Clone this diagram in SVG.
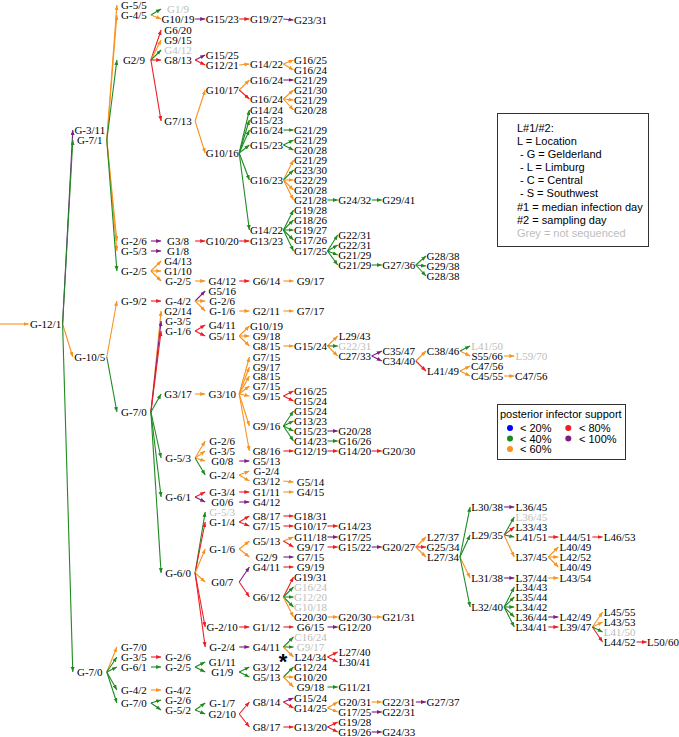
<svg xmlns="http://www.w3.org/2000/svg" width="679" height="737" viewBox="0 0 679 737">
<defs>
<marker id="mo" markerWidth="6" markerHeight="5" refX="5" refY="2" orient="auto" markerUnits="userSpaceOnUse"><path d="M0,0 L5,2 L0,4 Z" fill="#f7931e"/></marker>
<marker id="mg" markerWidth="6" markerHeight="5" refX="5" refY="2" orient="auto" markerUnits="userSpaceOnUse"><path d="M0,0 L5,2 L0,4 Z" fill="#1f8a22"/></marker>
<marker id="mr" markerWidth="6" markerHeight="5" refX="5" refY="2" orient="auto" markerUnits="userSpaceOnUse"><path d="M0,0 L5,2 L0,4 Z" fill="#ee1c25"/></marker>
<marker id="mp" markerWidth="6" markerHeight="5" refX="5" refY="2" orient="auto" markerUnits="userSpaceOnUse"><path d="M0,0 L5,2 L0,4 Z" fill="#7e1e82"/></marker>
</defs>
<style>
#edges path{fill:none;stroke-width:1.1}
.o{stroke:#f7931e;marker-end:url(#mo)}
.g{stroke:#1f8a22;marker-end:url(#mg)}
.r{stroke:#ee1c25;marker-end:url(#mr)}
.p{stroke:#7e1e82;marker-end:url(#mp)}
text{font-family:"Liberation Serif","Times New Roman",serif;font-size:11px;text-anchor:middle;fill:#000}
text.gy{fill:#bdbdbd}
.lg text{font-family:"Liberation Sans",Arial,sans-serif;font-size:11px;text-anchor:start}
.box{fill:#fff;stroke:#333;stroke-width:1}
</style>
<rect width="679" height="737" fill="#fff"/>
<g id="edges">
<path class="o" d="M0 324L28.6 324"/>
<path class="p" d="M62.6 324L72.8 130"/>
<path class="g" d="M62.6 324L72.8 140"/>
<path class="o" d="M62.6 324L72.8 357"/>
<path class="g" d="M62.6 324L72.8 672"/>
<path class="o" d="M106.8 140L116.9 5"/>
<path class="o" d="M106.8 140L116.9 15"/>
<path class="g" d="M106.8 140L116.9 60"/>
<path class="o" d="M106.8 140L116.9 241"/>
<path class="o" d="M106.8 140L116.9 251"/>
<path class="g" d="M106.8 140L116.9 271"/>
<path class="o" d="M106.8 357L116.9 301"/>
<path class="g" d="M106.8 357L116.9 412"/>
<path class="o" d="M106.8 672L116.9 647"/>
<path class="g" d="M106.8 672L116.9 657"/>
<path class="g" d="M106.8 672L116.9 667"/>
<path class="g" d="M106.8 672L116.9 690"/>
<path class="g" d="M106.8 672L116.9 703"/>
<path class="g" d="M150.9 15L161.1 9"/>
<path class="o" d="M150.9 15L161.1 19"/>
<path class="r" d="M150.9 60L161.1 30"/>
<path class="o" d="M150.9 60L161.1 40"/>
<path class="g" d="M150.9 60L161.1 50"/>
<path class="r" d="M150.9 60L161.1 60"/>
<path class="r" d="M150.9 60L161.1 121"/>
<path class="p" d="M150.9 241L161.1 241"/>
<path class="p" d="M150.9 251L161.1 251"/>
<path class="o" d="M150.9 271L161.1 261"/>
<path class="o" d="M150.9 271L161.1 271"/>
<path class="o" d="M150.9 271L161.1 281"/>
<path class="r" d="M150.9 301L161.1 301"/>
<path class="o" d="M150.9 412L161.1 311"/>
<path class="p" d="M150.9 412L161.1 321"/>
<path class="r" d="M150.9 412L161.1 331"/>
<path class="g" d="M150.9 412L161.1 394"/>
<path class="g" d="M150.9 412L161.1 458"/>
<path class="g" d="M150.9 412L161.1 497"/>
<path class="g" d="M150.9 412L161.1 573"/>
<path class="r" d="M150.9 657L161.1 657"/>
<path class="g" d="M150.9 667L161.1 667"/>
<path class="o" d="M150.9 690L161.1 690"/>
<path class="g" d="M150.9 703L161.1 700"/>
<path class="g" d="M150.9 703L161.1 710"/>
<path class="p" d="M195.1 19L205.2 19"/>
<path class="p" d="M195.1 60L205.2 55"/>
<path class="r" d="M195.1 60L205.2 65"/>
<path class="o" d="M195.1 121L205.2 90"/>
<path class="o" d="M195.1 121L205.2 153"/>
<path class="r" d="M195.1 241L205.2 241"/>
<path class="o" d="M195.1 281L205.2 281"/>
<path class="p" d="M195.1 301L205.2 291"/>
<path class="o" d="M195.1 301L205.2 301"/>
<path class="o" d="M195.1 301L205.2 311"/>
<path class="r" d="M195.1 331L205.2 325"/>
<path class="r" d="M195.1 331L205.2 336"/>
<path class="o" d="M195.1 394L205.2 394"/>
<path class="o" d="M195.1 458L205.2 441"/>
<path class="o" d="M195.1 458L205.2 451"/>
<path class="o" d="M195.1 458L205.2 461"/>
<path class="g" d="M195.1 458L205.2 475"/>
<path class="r" d="M195.1 497L205.2 492"/>
<path class="p" d="M195.1 497L205.2 502"/>
<path class="g" d="M195.1 573L205.2 512"/>
<path class="r" d="M195.1 573L205.2 522"/>
<path class="o" d="M195.1 573L205.2 549"/>
<path class="o" d="M195.1 573L205.2 582"/>
<path class="r" d="M195.1 573L205.2 627"/>
<path class="r" d="M195.1 573L205.2 647"/>
<path class="g" d="M195.1 667L205.2 662"/>
<path class="g" d="M195.1 667L205.2 672"/>
<path class="g" d="M195.1 710L205.2 703"/>
<path class="g" d="M195.1 710L205.2 714"/>
<path class="r" d="M239.2 19L249.4 19"/>
<path class="o" d="M239.2 65L249.4 64"/>
<path class="o" d="M239.2 90L249.4 80"/>
<path class="r" d="M239.2 90L249.4 99"/>
<path class="g" d="M239.2 153L249.4 110"/>
<path class="g" d="M239.2 153L249.4 120"/>
<path class="g" d="M239.2 153L249.4 130"/>
<path class="g" d="M239.2 153L249.4 145"/>
<path class="g" d="M239.2 153L249.4 180"/>
<path class="g" d="M239.2 153L249.4 230"/>
<path class="r" d="M239.2 241L249.4 241"/>
<path class="r" d="M239.2 281L249.4 281"/>
<path class="o" d="M239.2 311L249.4 311"/>
<path class="o" d="M239.2 336L249.4 326"/>
<path class="o" d="M239.2 336L249.4 336"/>
<path class="o" d="M239.2 336L249.4 346"/>
<path class="o" d="M239.2 394L249.4 357"/>
<path class="o" d="M239.2 394L249.4 367"/>
<path class="o" d="M239.2 394L249.4 376"/>
<path class="o" d="M239.2 394L249.4 386"/>
<path class="o" d="M239.2 394L249.4 396"/>
<path class="o" d="M239.2 394L249.4 426"/>
<path class="o" d="M239.2 394L249.4 451"/>
<path class="p" d="M239.2 461L249.4 461"/>
<path class="o" d="M239.2 475L249.4 471"/>
<path class="o" d="M239.2 475L249.4 481"/>
<path class="r" d="M239.2 492L249.4 492"/>
<path class="p" d="M239.2 502L249.4 502"/>
<path class="r" d="M239.2 522L249.4 516"/>
<path class="r" d="M239.2 522L249.4 526"/>
<path class="o" d="M239.2 549L249.4 541"/>
<path class="o" d="M239.2 549L249.4 557"/>
<path class="p" d="M239.2 582L249.4 567"/>
<path class="r" d="M239.2 582L249.4 597"/>
<path class="r" d="M239.2 627L249.4 627"/>
<path class="p" d="M239.2 647L249.4 647"/>
<path class="g" d="M239.2 672L249.4 667"/>
<path class="g" d="M239.2 672L249.4 677"/>
<path class="r" d="M239.2 714L249.4 702"/>
<path class="r" d="M239.2 714L249.4 727"/>
<path class="p" d="M283.4 19L293.5 20"/>
<path class="o" d="M283.4 64L293.5 60"/>
<path class="o" d="M283.4 64L293.5 70"/>
<path class="p" d="M283.4 80L293.5 80"/>
<path class="o" d="M283.4 99L293.5 90"/>
<path class="o" d="M283.4 99L293.5 100"/>
<path class="o" d="M283.4 99L293.5 110"/>
<path class="g" d="M283.4 130L293.5 130"/>
<path class="g" d="M283.4 145L293.5 140"/>
<path class="g" d="M283.4 145L293.5 150"/>
<path class="o" d="M283.4 180L293.5 160"/>
<path class="g" d="M283.4 180L293.5 170"/>
<path class="o" d="M283.4 180L293.5 180"/>
<path class="o" d="M283.4 180L293.5 190"/>
<path class="o" d="M283.4 180L293.5 200"/>
<path class="g" d="M283.4 230L293.5 210"/>
<path class="g" d="M283.4 230L293.5 220"/>
<path class="g" d="M283.4 230L293.5 230"/>
<path class="g" d="M283.4 230L293.5 240"/>
<path class="g" d="M283.4 230L293.5 251"/>
<path class="o" d="M283.4 281L293.5 281"/>
<path class="o" d="M283.4 311L293.5 311"/>
<path class="o" d="M283.4 346L293.5 346"/>
<path class="r" d="M283.4 396L293.5 391"/>
<path class="r" d="M283.4 396L293.5 401"/>
<path class="g" d="M283.4 426L293.5 411"/>
<path class="g" d="M283.4 426L293.5 421"/>
<path class="g" d="M283.4 426L293.5 431"/>
<path class="g" d="M283.4 426L293.5 441"/>
<path class="r" d="M283.4 451L293.5 451"/>
<path class="o" d="M283.4 481L293.5 482"/>
<path class="o" d="M283.4 492L293.5 492"/>
<path class="r" d="M283.4 516L293.5 516"/>
<path class="r" d="M283.4 526L293.5 526"/>
<path class="o" d="M283.4 541L293.5 537"/>
<path class="r" d="M283.4 541L293.5 547"/>
<path class="p" d="M283.4 557L293.5 557"/>
<path class="r" d="M283.4 567L293.5 567"/>
<path class="r" d="M283.4 597L293.5 577"/>
<path class="g" d="M283.4 597L293.5 587"/>
<path class="g" d="M283.4 597L293.5 597"/>
<path class="g" d="M283.4 597L293.5 607"/>
<path class="o" d="M283.4 597L293.5 617"/>
<path class="r" d="M283.4 627L293.5 627"/>
<path class="g" d="M283.4 647L293.5 637"/>
<path class="g" d="M283.4 647L293.5 647"/>
<path class="o" d="M283.4 647L293.5 657"/>
<path class="g" d="M283.4 677L293.5 667"/>
<path class="o" d="M283.4 677L293.5 677"/>
<path class="o" d="M283.4 677L293.5 687"/>
<path class="p" d="M283.4 702L293.5 698"/>
<path class="r" d="M283.4 702L293.5 708"/>
<path class="r" d="M283.4 727L293.5 727"/>
<path class="g" d="M327.5 200L337.7 200"/>
<path class="g" d="M327.5 251L337.7 235"/>
<path class="g" d="M327.5 251L337.7 245"/>
<path class="g" d="M327.5 251L337.7 255"/>
<path class="g" d="M327.5 251L337.7 265"/>
<path class="o" d="M327.5 346L337.7 336"/>
<path class="g" d="M327.5 346L337.7 346"/>
<path class="o" d="M327.5 346L337.7 356"/>
<path class="p" d="M327.5 431L337.7 431"/>
<path class="g" d="M327.5 441L337.7 441"/>
<path class="r" d="M327.5 451L337.7 451"/>
<path class="r" d="M327.5 526L337.7 526"/>
<path class="p" d="M327.5 537L337.7 537"/>
<path class="r" d="M327.5 547L337.7 547"/>
<path class="o" d="M327.5 617L337.7 617"/>
<path class="p" d="M327.5 627L337.7 627"/>
<path class="r" d="M327.5 657L337.7 652"/>
<path class="r" d="M327.5 657L337.7 662"/>
<path class="g" d="M327.5 687L337.7 687"/>
<path class="o" d="M327.5 708L337.7 702"/>
<path class="o" d="M327.5 708L337.7 712"/>
<path class="r" d="M327.5 727L337.7 722"/>
<path class="r" d="M327.5 727L337.7 732"/>
<path class="g" d="M371.7 200L381.8 200"/>
<path class="g" d="M371.7 265L381.8 265"/>
<path class="p" d="M371.7 356L381.8 351"/>
<path class="p" d="M371.7 356L381.8 361"/>
<path class="r" d="M371.7 451L381.8 451"/>
<path class="p" d="M371.7 547L381.8 547"/>
<path class="o" d="M371.7 617L381.8 617"/>
<path class="o" d="M371.7 702L381.8 702"/>
<path class="p" d="M371.7 712L381.8 712"/>
<path class="p" d="M371.7 732L381.8 732"/>
<path class="g" d="M415.8 265L426 256"/>
<path class="g" d="M415.8 265L426 266"/>
<path class="g" d="M415.8 265L426 276"/>
<path class="o" d="M415.8 361L426 351"/>
<path class="r" d="M415.8 361L426 371"/>
<path class="o" d="M415.8 547L426 537"/>
<path class="r" d="M415.8 547L426 547"/>
<path class="o" d="M415.8 547L426 557"/>
<path class="p" d="M415.8 702L426 702"/>
<path class="g" d="M460 351L470.1 346"/>
<path class="o" d="M460 351L470.1 356"/>
<path class="o" d="M460 371L470.1 366"/>
<path class="o" d="M460 371L470.1 376"/>
<path class="g" d="M460 557L470.1 507"/>
<path class="g" d="M460 557L470.1 535"/>
<path class="o" d="M460 557L470.1 578"/>
<path class="g" d="M460 557L470.1 607"/>
<path class="o" d="M504.1 356L514.3 356"/>
<path class="o" d="M504.1 376L514.3 376"/>
<path class="p" d="M504.1 507L514.3 507"/>
<path class="g" d="M504.1 535L514.3 517"/>
<path class="r" d="M504.1 535L514.3 527"/>
<path class="g" d="M504.1 535L514.3 537"/>
<path class="o" d="M504.1 535L514.3 557"/>
<path class="p" d="M504.1 578L514.3 578"/>
<path class="g" d="M504.1 607L514.3 587"/>
<path class="g" d="M504.1 607L514.3 597"/>
<path class="g" d="M504.1 607L514.3 607"/>
<path class="g" d="M504.1 607L514.3 617"/>
<path class="g" d="M504.1 607L514.3 627"/>
<path class="r" d="M548.3 537L558.4 537"/>
<path class="o" d="M548.3 557L558.4 547"/>
<path class="o" d="M548.3 557L558.4 557"/>
<path class="o" d="M548.3 557L558.4 567"/>
<path class="o" d="M548.3 578L558.4 578"/>
<path class="p" d="M548.3 617L558.4 617"/>
<path class="r" d="M548.3 627L558.4 627"/>
<path class="r" d="M592.4 537L602.6 537"/>
<path class="o" d="M592.4 627L602.6 612"/>
<path class="o" d="M592.4 627L602.6 622"/>
<path class="g" d="M592.4 627L602.6 632"/>
<path class="r" d="M592.4 627L602.6 642"/>
<path class="r" d="M636.6 642L646.7 642"/>
</g>
<g id="n0"><text x="45.6" y="328">G-12/1</text></g>
<g id="a1"><text x="89.8" y="134">G-3/11</text></g>
<g id="a2"><text x="89.8" y="144">G-7/1</text></g>
<g id="a3"><text x="89.8" y="361">G-10/5</text></g>
<g id="a4"><text x="89.8" y="676">G-7/0</text></g>
<g id="b1"><text x="133.9" y="9">G-5/5</text></g>
<g id="b2"><text x="133.9" y="19">G-4/5</text></g>
<g id="b3"><text x="133.9" y="64">G2/9</text></g>
<g id="b4"><text x="133.9" y="245">G-2/6</text></g>
<g id="b5"><text x="133.9" y="255">G-5/3</text></g>
<g id="b6"><text x="133.9" y="275">G-2/5</text></g>
<g id="b7"><text x="133.9" y="305">G-9/2</text></g>
<g id="b8"><text x="133.9" y="416">G-7/0</text></g>
<g id="b9"><text x="133.9" y="651">G-7/0</text></g>
<g id="b10"><text x="133.9" y="661">G-3/5</text></g>
<g id="b11"><text x="133.9" y="671">G-6/1</text></g>
<g id="b12"><text x="133.9" y="694">G-4/2</text></g>
<g id="b13"><text x="133.9" y="707">G-7/0</text></g>
<g id="c1"><text class="gy" x="178.1" y="13">G1/9</text></g>
<g id="c2"><text x="178.1" y="23">G10/19</text></g>
<g id="c3"><text x="178.1" y="34">G6/20</text></g>
<g id="c4"><text x="178.1" y="44">G9/15</text></g>
<g id="c5"><text class="gy" x="178.1" y="54">G4/12</text></g>
<g id="c6"><text x="178.1" y="64">G8/13</text></g>
<g id="c7"><text x="178.1" y="125">G7/13</text></g>
<g id="c8"><text x="178.1" y="245">G3/8</text></g>
<g id="c9"><text x="178.1" y="255">G1/8</text></g>
<g id="c10"><text x="178.1" y="265">G4/13</text></g>
<g id="c11"><text x="178.1" y="275">G1/10</text></g>
<g id="c12"><text x="178.1" y="285">G-2/5</text></g>
<g id="c13"><text x="178.1" y="305">G-4/2</text></g>
<g id="c14"><text x="178.1" y="315">G2/14</text></g>
<g id="c15"><text x="178.1" y="325">G-3/5</text></g>
<g id="c16"><text x="178.1" y="335">G-1/6</text></g>
<g id="c17"><text x="178.1" y="398">G3/17</text></g>
<g id="c18"><text x="178.1" y="462">G-5/3</text></g>
<g id="c19"><text x="178.1" y="501">G-6/1</text></g>
<g id="c20"><text x="178.1" y="577">G-6/0</text></g>
<g id="c21"><text x="178.1" y="661">G-2/6</text></g>
<g id="c22"><text x="178.1" y="671">G-2/5</text></g>
<g id="c23"><text x="178.1" y="694">G-4/2</text></g>
<g id="c24"><text x="178.1" y="704">G-2/6</text></g>
<g id="c25"><text x="178.1" y="714">G-5/2</text></g>
<g id="d1"><text x="222.2" y="23">G15/23</text></g>
<g id="d2"><text x="222.2" y="59">G15/25</text></g>
<g id="d3"><text x="222.2" y="69">G12/21</text></g>
<g id="d4"><text x="222.2" y="94">G10/17</text></g>
<g id="d5"><text x="222.2" y="157">G10/16</text></g>
<g id="d6"><text x="222.2" y="245">G10/20</text></g>
<g id="d7"><text x="222.2" y="285">G4/12</text></g>
<g id="d8"><text x="222.2" y="295">G5/16</text></g>
<g id="d9"><text x="222.2" y="305">G-2/6</text></g>
<g id="d10"><text x="222.2" y="315">G-1/6</text></g>
<g id="d11"><text x="222.2" y="329">G4/11</text></g>
<g id="d12"><text x="222.2" y="340">G5/11</text></g>
<g id="d13"><text x="222.2" y="398">G3/10</text></g>
<g id="d14"><text x="222.2" y="445">G-2/6</text></g>
<g id="d15"><text x="222.2" y="455">G-3/5</text></g>
<g id="d16"><text x="222.2" y="465">G0/8</text></g>
<g id="d17"><text x="222.2" y="479">G-2/4</text></g>
<g id="d18"><text x="222.2" y="496">G-3/4</text></g>
<g id="d19"><text x="222.2" y="506">G0/6</text></g>
<g id="d20"><text class="gy" x="222.2" y="516">G-5/3</text></g>
<g id="d21"><text x="222.2" y="526">G-1/4</text></g>
<g id="d22"><text x="222.2" y="553">G-1/6</text></g>
<g id="d23"><text x="222.2" y="586">G0/7</text></g>
<g id="d24"><text x="222.2" y="631">G-2/10</text></g>
<g id="d25"><text x="222.2" y="651">G-2/4</text></g>
<g id="d26"><text x="222.2" y="666">G1/11</text></g>
<g id="d27"><text x="222.2" y="676">G1/9</text></g>
<g id="d28"><text x="222.2" y="707">G-1/7</text></g>
<g id="d29"><text x="222.2" y="718">G2/10</text></g>
<g id="e1"><text x="266.4" y="23">G19/27</text></g>
<g id="e2"><text x="266.4" y="68">G14/22</text></g>
<g id="e3"><text x="266.4" y="84">G16/24</text></g>
<g id="e4"><text x="266.4" y="103">G16/24</text></g>
<g id="e5"><text x="266.4" y="114">G14/24</text></g>
<g id="e6"><text x="266.4" y="124">G15/23</text></g>
<g id="e7"><text x="266.4" y="134">G16/24</text></g>
<g id="e8"><text x="266.4" y="149">G15/23</text></g>
<g id="e9"><text x="266.4" y="184">G16/23</text></g>
<g id="e10"><text x="266.4" y="234">G14/22</text></g>
<g id="e11"><text x="266.4" y="245">G13/23</text></g>
<g id="e12"><text x="266.4" y="285">G6/14</text></g>
<g id="e13"><text x="266.4" y="315">G2/11</text></g>
<g id="e14"><text x="266.4" y="330">G10/19</text></g>
<g id="e15"><text x="266.4" y="340">G9/18</text></g>
<g id="e16"><text x="266.4" y="350">G8/15</text></g>
<g id="e17"><text x="266.4" y="361">G7/15</text></g>
<g id="e18"><text x="266.4" y="371">G9/17</text></g>
<g id="e19"><text x="266.4" y="380">G8/15</text></g>
<g id="e20"><text x="266.4" y="390">G7/15</text></g>
<g id="e21"><text x="266.4" y="400">G9/15</text></g>
<g id="e22"><text x="266.4" y="430">G9/16</text></g>
<g id="e23"><text x="266.4" y="455">G8/16</text></g>
<g id="e24"><text x="266.4" y="465">G5/13</text></g>
<g id="e25"><text x="266.4" y="475">G-2/4</text></g>
<g id="e26"><text x="266.4" y="485">G3/12</text></g>
<g id="e27"><text x="266.4" y="496">G1/11</text></g>
<g id="e28"><text x="266.4" y="506">G4/12</text></g>
<g id="e29"><text x="266.4" y="520">G8/17</text></g>
<g id="e30"><text x="266.4" y="530">G7/15</text></g>
<g id="e31"><text x="266.4" y="545">G5/13</text></g>
<g id="e32"><text x="266.4" y="561">G2/9</text></g>
<g id="e33"><text x="266.4" y="571">G4/11</text></g>
<g id="e34"><text x="266.4" y="601">G6/12</text></g>
<g id="e35"><text x="266.4" y="631">G1/12</text></g>
<g id="e36"><text x="266.4" y="651">G4/11</text></g>
<g id="e37"><text x="266.4" y="671">G3/12</text></g>
<g id="e38"><text x="266.4" y="681">G5/13</text></g>
<g id="e39"><text x="266.4" y="706">G8/14</text></g>
<g id="e40"><text x="266.4" y="731">G8/17</text></g>
<g id="f1"><text x="310.5" y="24">G23/31</text></g>
<g id="f2"><text x="310.5" y="64">G16/25</text></g>
<g id="f3"><text x="310.5" y="74">G16/24</text></g>
<g id="f4"><text x="310.5" y="84">G21/29</text></g>
<g id="f5"><text x="310.5" y="94">G21/30</text></g>
<g id="f6"><text x="310.5" y="104">G21/29</text></g>
<g id="f7"><text x="310.5" y="114">G20/28</text></g>
<g id="f8"><text x="310.5" y="134">G21/29</text></g>
<g id="f9"><text x="310.5" y="144">G21/29</text></g>
<g id="f10"><text x="310.5" y="154">G20/28</text></g>
<g id="f11"><text x="310.5" y="164">G21/29</text></g>
<g id="f12"><text x="310.5" y="174">G23/30</text></g>
<g id="f13"><text x="310.5" y="184">G22/29</text></g>
<g id="f14"><text x="310.5" y="194">G20/28</text></g>
<g id="f15"><text x="310.5" y="204">G21/28</text></g>
<g id="f16"><text x="310.5" y="214">G19/28</text></g>
<g id="f17"><text x="310.5" y="224">G18/26</text></g>
<g id="f18"><text x="310.5" y="234">G19/27</text></g>
<g id="f19"><text x="310.5" y="244">G17/26</text></g>
<g id="f20"><text x="310.5" y="255">G17/25</text></g>
<g id="f21"><text x="310.5" y="285">G9/17</text></g>
<g id="f22"><text x="310.5" y="315">G7/17</text></g>
<g id="f23"><text x="310.5" y="350">G15/24</text></g>
<g id="f24"><text x="310.5" y="395">G16/25</text></g>
<g id="f25"><text x="310.5" y="405">G15/24</text></g>
<g id="f26"><text x="310.5" y="415">G15/24</text></g>
<g id="f27"><text x="310.5" y="425">G13/23</text></g>
<g id="f28"><text x="310.5" y="435">G15/23</text></g>
<g id="f29"><text x="310.5" y="445">G14/23</text></g>
<g id="f30"><text x="310.5" y="455">G12/19</text></g>
<g id="f31"><text x="310.5" y="486">G5/14</text></g>
<g id="f32"><text x="310.5" y="496">G4/15</text></g>
<g id="f33"><text x="310.5" y="520">G18/31</text></g>
<g id="f34"><text x="310.5" y="530">G10/17</text></g>
<g id="f35"><text x="310.5" y="541">G11/18</text></g>
<g id="f36"><text x="310.5" y="551">G9/17</text></g>
<g id="f37"><text x="310.5" y="561">G7/15</text></g>
<g id="f38"><text x="310.5" y="571">G9/19</text></g>
<g id="f39"><text x="310.5" y="581">G19/31</text></g>
<g id="f40"><text class="gy" x="310.5" y="591">G16/24</text></g>
<g id="f41"><text class="gy" x="310.5" y="601">G12/20</text></g>
<g id="f42"><text class="gy" x="310.5" y="611">G10/18</text></g>
<g id="f43"><text x="310.5" y="621">G20/30</text></g>
<g id="f44"><text x="310.5" y="631">G6/15</text></g>
<g id="f45"><text class="gy" x="310.5" y="641">C16/24</text></g>
<g id="f46"><text class="gy" x="310.5" y="651">G9/17</text></g>
<g id="f47"><text x="310.5" y="661">L24/34</text></g>
<g id="f48"><text x="310.5" y="671">G12/24</text></g>
<g id="f49"><text x="310.5" y="681">G10/20</text></g>
<g id="f50"><text x="310.5" y="691">G9/18</text></g>
<g id="f51"><text x="310.5" y="702">G15/24</text></g>
<g id="f52"><text x="310.5" y="712">G14/25</text></g>
<g id="f53"><text x="310.5" y="731">G13/20</text></g>
<g id="g1"><text x="354.7" y="204">G24/32</text></g>
<g id="g2"><text x="354.7" y="239">G22/31</text></g>
<g id="g3"><text x="354.7" y="249">G22/31</text></g>
<g id="g4"><text x="354.7" y="259">G21/29</text></g>
<g id="g5"><text x="354.7" y="269">G21/29</text></g>
<g id="g6"><text x="354.7" y="340">L29/43</text></g>
<g id="g7"><text class="gy" x="354.7" y="350">G22/31</text></g>
<g id="g8"><text x="354.7" y="360">C27/33</text></g>
<g id="g9"><text x="354.7" y="435">G20/28</text></g>
<g id="g10"><text x="354.7" y="445">G16/26</text></g>
<g id="g11"><text x="354.7" y="455">G14/20</text></g>
<g id="g12"><text x="354.7" y="530">G14/23</text></g>
<g id="g13"><text x="354.7" y="541">G17/25</text></g>
<g id="g14"><text x="354.7" y="551">G15/22</text></g>
<g id="g15"><text x="354.7" y="621">G20/30</text></g>
<g id="g16"><text x="354.7" y="631">G12/20</text></g>
<g id="g17"><text x="354.7" y="656">L27/40</text></g>
<g id="g18"><text x="354.7" y="666">L30/41</text></g>
<g id="g19"><text x="354.7" y="691">G11/21</text></g>
<g id="g20"><text x="354.7" y="706">G20/31</text></g>
<g id="g21"><text x="354.7" y="716">G17/25</text></g>
<g id="g22"><text x="354.7" y="726">G19/28</text></g>
<g id="g23"><text x="354.7" y="736">G19/26</text></g>
<g id="h1"><text x="398.8" y="204">G29/41</text></g>
<g id="h2"><text x="398.8" y="269">G27/36</text></g>
<g id="h3"><text x="398.8" y="355">C35/47</text></g>
<g id="h4"><text x="398.8" y="365">C34/40</text></g>
<g id="h5"><text x="398.8" y="455">G20/30</text></g>
<g id="h6"><text x="398.8" y="551">G20/27</text></g>
<g id="h7"><text x="398.8" y="621">G21/31</text></g>
<g id="h8"><text x="398.8" y="706">G22/31</text></g>
<g id="h9"><text x="398.8" y="716">G22/31</text></g>
<g id="h10"><text x="398.8" y="736">G24/33</text></g>
<g id="i1"><text x="443" y="260">G28/38</text></g>
<g id="i2"><text x="443" y="270">G29/38</text></g>
<g id="i3"><text x="443" y="280">G28/38</text></g>
<g id="i4"><text x="443" y="355">C38/46</text></g>
<g id="i5"><text x="443" y="375">L41/49</text></g>
<g id="i6"><text x="443" y="541">L27/37</text></g>
<g id="i7"><text x="443" y="551">G25/34</text></g>
<g id="i8"><text x="443" y="561">L27/34</text></g>
<g id="i9"><text x="443" y="706">G27/37</text></g>
<g id="j1"><text class="gy" x="487.1" y="350">L41/50</text></g>
<g id="j2"><text x="487.1" y="360">S55/66</text></g>
<g id="j3"><text x="487.1" y="370">C47/56</text></g>
<g id="j4"><text x="487.1" y="380">C45/55</text></g>
<g id="j5"><text x="487.1" y="511">L30/38</text></g>
<g id="j6"><text x="487.1" y="539">L29/35</text></g>
<g id="j7"><text x="487.1" y="582">L31/38</text></g>
<g id="j8"><text x="487.1" y="611">L32/40</text></g>
<g id="k1"><text class="gy" x="531.3" y="360">L59/70</text></g>
<g id="k2"><text x="531.3" y="380">C47/56</text></g>
<g id="k3"><text x="531.3" y="511">L36/45</text></g>
<g id="k4"><text class="gy" x="531.3" y="521">L36/45</text></g>
<g id="k5"><text x="531.3" y="531">L33/43</text></g>
<g id="k6"><text x="531.3" y="541">L41/51</text></g>
<g id="k7"><text x="531.3" y="561">L37/45</text></g>
<g id="k8"><text x="531.3" y="582">L37/44</text></g>
<g id="k9"><text x="531.3" y="591">L34/43</text></g>
<g id="k10"><text x="531.3" y="601">L35/44</text></g>
<g id="k11"><text x="531.3" y="611">L34/42</text></g>
<g id="k12"><text x="531.3" y="621">L36/44</text></g>
<g id="k13"><text x="531.3" y="631">L34/41</text></g>
<g id="l1"><text x="575.4" y="541">L44/51</text></g>
<g id="l2"><text x="575.4" y="551">L40/49</text></g>
<g id="l3"><text x="575.4" y="561">L42/52</text></g>
<g id="l4"><text x="575.4" y="571">L40/49</text></g>
<g id="l5"><text x="575.4" y="582">L43/54</text></g>
<g id="l6"><text x="575.4" y="621">L42/49</text></g>
<g id="l7"><text x="575.4" y="631">L39/47</text></g>
<g id="m1"><text x="619.6" y="541">L46/53</text></g>
<g id="m2"><text x="619.6" y="616">L45/55</text></g>
<g id="m3"><text x="619.6" y="626">L43/53</text></g>
<g id="m4"><text class="gy" x="619.6" y="636">L41/50</text></g>
<g id="m5"><text x="619.6" y="646">L44/52</text></g>
<g id="n1"><text x="663" y="646">L50/60</text></g>
<g id="star"><text x="283" y="669" style="font-family:'Liberation Sans',Arial,sans-serif;font-size:22px;font-weight:bold">*</text></g>
<g id="legend1" class="lg">
<rect class="box" x="497.5" y="113.5" width="151" height="133"/>
<text x="517" y="132">L#1/#2:</text>
<text x="517" y="145">L = Location</text>
<text x="520" y="158">- G = Gelderland</text>
<text x="520" y="171">- L = Limburg</text>
<text x="520" y="184">- C = Central</text>
<text x="520" y="197">- S = Southwest</text>
<text x="517" y="211">#1 = median infection day</text>
<text x="517" y="224">#2 = sampling day</text>
<text x="517" y="237" style="fill:#bdbdbd">Grey = not sequenced</text>
</g>
<g id="legend2" class="lg">
<rect class="box" x="497.5" y="404.5" width="128" height="55"/>
<text x="500" y="418">posterior infector support</text>
<circle cx="510" cy="428" r="3" fill="#0000ff"/>
<circle cx="510" cy="438.5" r="3" fill="#1f8a22"/>
<circle cx="510" cy="449" r="3" fill="#f7931e"/>
<circle cx="568.3" cy="428" r="3" fill="#ee1c25"/>
<circle cx="568.3" cy="438.5" r="3" fill="#7e1e82"/>
<text x="520" y="432">&lt; 20%</text>
<text x="520" y="442.5">&lt; 40%</text>
<text x="520" y="453">&lt; 60%</text>
<text x="579" y="432">&lt; 80%</text>
<text x="579" y="442.5">&lt; 100%</text>
</g>
</svg>
